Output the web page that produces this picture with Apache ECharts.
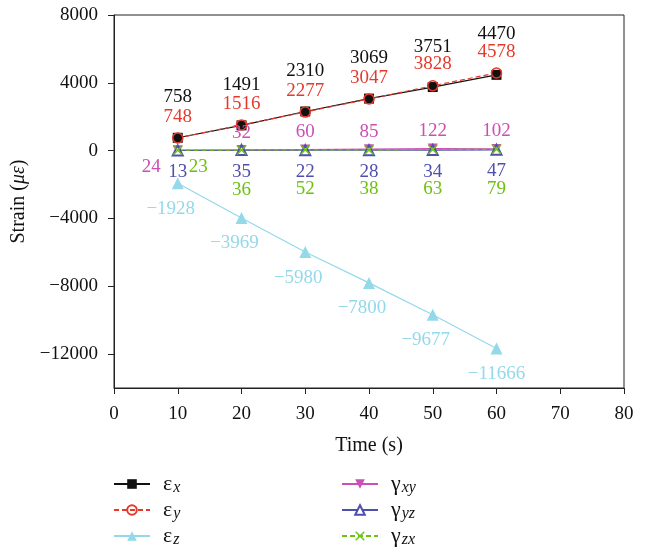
<!DOCTYPE html>
<html><head><meta charset="utf-8">
<script src="https://cdn.jsdelivr.net/npm/echarts@6/dist/echarts.min.js"></script>
<style>html,body{margin:0;padding:0;background:#fff}#c{width:649px;height:548px}</style>
</head><body><div id="c"></div>
<script>
var time = [10, 20, 30, 40, 50, 60];
var epsX = [758, 1491, 2310, 3069, 3751, 4470];
var epsY = [748, 1516, 2277, 3047, 3828, 4578];
var epsZ = [-1928, -3969, -5980, -7800, -9677, -11666];
var gamXY = [24, 32, 60, 85, 122, 102];
var gamYZ = [13, 35, 22, 28, 34, 47];
var gamZX = [23, 36, 52, 38, 63, 79];
var yTicks = [-12000, -8000, -4000, 0, 4000, 8000];
var seriesNames = ['ex', 'ey', 'ez', 'xy', 'yz', 'zx'];

var FONT = 'Liberation Serif';
function pts(ys){ return time.map(function(t,i){ return [t, ys[i]]; }); }
function minus(v){ return v<0 ? '\u2212'+Math.abs(v) : ''+v; }
var xPath = 'path://M1,0 L5,4 L9,0 L10,1 L6,5 L10,9 L9,10 L5,6 L1,10 L0,9 L4,5 L0,1 Z';

function lbl(color, pos, dist){
  return {show:true, position:pos, distance:dist, color:color, fontFamily:FONT, fontSize:19,
    formatter:function(p){ return minus(p.value[1]); }};
}
var C = {ex:'#111111', ey:'#e5392b', ez:'#93d9ea', xy:'#cc4fb5', yz:'#4f4fae', zx:'#6cc210'};

var epsZData = pts(epsZ).map(function(p,i){
  return {value:p, label:{offset:[i===5?0:-7, 0]}};
});
var xyData = pts(gamXY).map(function(p,i){
  return i===0 ? {value:p, label:{position:'left', distance:12, offset:[0,17]}} : {value:p};
});
var zxData = pts(gamZX).map(function(p,i){
  return i===0 ? {value:p, label:{position:'right', distance:6, offset:[0,17]}} : {value:p};
});
var yzData = pts(gamYZ);

var legRich = {
  g:{fontFamily:FONT, fontSize:22, color:'#111', lineHeight:22, padding:[0,0,0,8]},
  s:{fontFamily:FONT, fontSize:16, fontStyle:'italic', color:'#111', lineHeight:14, padding:[8,0,0,1]}
};
function legFmt(name){
  var m = {'ex':['ε','x'],'ey':['ε','y'],'ez':['ε','z'],'xy':['γ','xy'],'yz':['γ','yz'],'zx':['γ','zx']}[name];
  return '{g|' + m[0] + '}{s|' + m[1] + '}';
}
var legends = seriesNames.map(function(n, i){
  return {data:[n], left: i<3 ? 113 : 341, top: 472 + (i%3)*26, padding:0,
    itemWidth:36, itemHeight:12, formatter:legFmt, textStyle:{rich:legRich}};
});

var option = {
  animation:false,
  backgroundColor:'#fff',
  grid:{left:114, right:25, top:15, bottom:160, show:true, borderColor:'#222', borderWidth:1},
  xAxis:{
    type:'value', min:0, max:80, interval:10,
    name:'Time (s)', nameLocation:'middle', nameGap:48,
    nameTextStyle:{fontFamily:FONT, fontSize:20, color:'#111'},
    axisLine:{onZero:false, lineStyle:{color:'#222', width:1}},
    axisTick:{show:true, length:6, inside:false, lineStyle:{color:'#222'}},
    axisLabel:{fontFamily:FONT, fontSize:19, color:'#111', margin:17},
    splitLine:{show:false}
  },
  yAxis:{
    type:'value', min:-14000, max:8000,
    name:'{n|Strain (}{i|με}{n|)}', nameLocation:'middle', nameGap:80,
    nameTextStyle:{rich:{n:{fontFamily:FONT, fontSize:20, color:'#111'}, i:{fontFamily:FONT, fontSize:20, fontStyle:'italic', color:'#111'}}},
    axisLine:{show:true, onZero:false, lineStyle:{color:'#222', width:1}},
    axisTick:{show:true, length:6, customValues:yTicks, lineStyle:{color:'#222'}},
    axisLabel:{fontFamily:FONT, fontSize:19, color:'#111', margin:16, customValues:yTicks,
      formatter:function(v){ return minus(v); }},
    splitLine:{show:false}
  },
  legend:legends,
  series:[
    {name:'ex', type:'line', data:pts(epsX), symbol:'rect', symbolSize:10,
     itemStyle:{color:C.ex}, lineStyle:{color:C.ex, width:1.2},
     label:lbl(C.ex,'top',26)},
    {name:'ey', type:'line', data:pts(epsY), symbol:'circle', symbolSize:10,
     itemStyle:{color:'rgba(0,0,0,0)', borderColor:C.ey, borderWidth:1.6},
     lineStyle:{color:C.ey, width:1.2, type:[5,3]},
     label:lbl(C.ey,'top',6)},
    {name:'ez', type:'line', data:epsZData, symbol:'triangle', symbolSize:12,
     itemStyle:{color:C.ez}, lineStyle:{color:C.ez, width:1.2},
     label:lbl(C.ez,'bottom',10)},
    {name:'xy', type:'line', data:xyData, symbol:'triangle', symbolRotate:180, symbolSize:10,
     itemStyle:{color:C.xy}, lineStyle:{color:C.xy, width:1.2},
     label:lbl(C.xy,'top',3)},
    {name:'yz', type:'line', data:yzData, symbol:'emptyTriangle', symbolSize:10,
     itemStyle:{color:C.yz, borderWidth:1.2}, lineStyle:{color:C.yz, width:1.2},
     label:lbl(C.yz,'bottom',6)},
    {name:'zx', type:'line', data:zxData, symbol:xPath, symbolSize:10,
     itemStyle:{color:C.zx}, lineStyle:{color:C.zx, width:1.2, type:[5,3]},
     label:lbl(C.zx,'bottom',25)}
  ]
};
var chart = echarts.init(document.getElementById('c'), null, {renderer:'canvas'});
chart.setOption(option);
</script>
</body></html>
